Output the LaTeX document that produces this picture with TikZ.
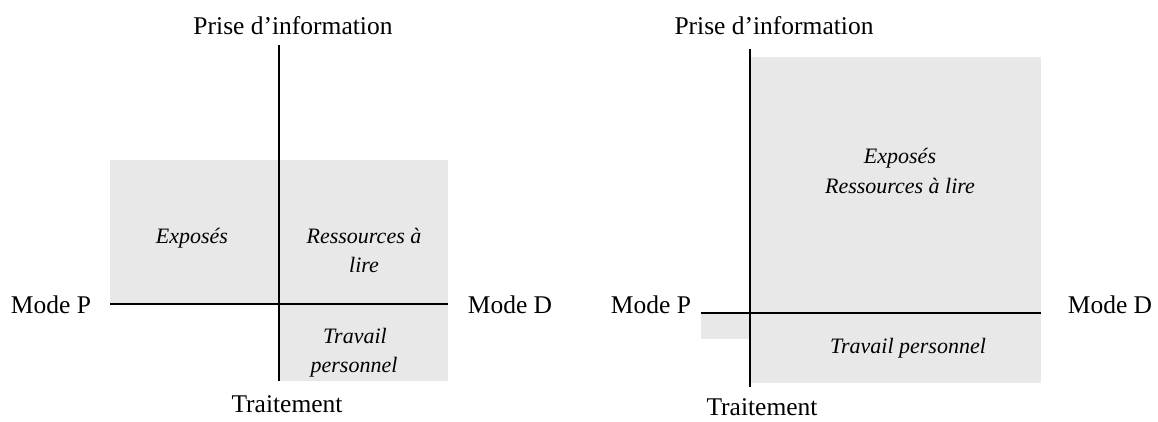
\documentclass[tikz,border=0pt]{standalone}
\usepackage{fontspec}
\setmainfont{Liberation Serif}
\definecolor{shade}{RGB}{232,232,232}
\tikzset{
  axis/.style={line width=2pt, black},
  zone/.style={fill=shade, draw=none},
  lbl/.style={anchor=base, inner sep=0pt, font=\fontsize{25.5pt}{30pt}\selectfont},
  itl/.style={anchor=base, inner sep=0pt, font=\fontsize{22pt}{26pt}\selectfont\itshape},
}
\begin{document}
\begin{tikzpicture}[x=1pt,y=-1pt]
\useasboundingbox (0,0) rectangle (1158,421);
% ---------- left diagram ----------
\fill[zone] (110,160) rectangle (448,304);
\fill[zone] (279,304) rectangle (448,381);
\coordinate (LT) at (279,45);
\coordinate (LB) at (279,381);
\coordinate (LL) at (110,304);
\coordinate (LR) at (448,304);
\draw[axis] (LT) -- (LB);
\draw[axis] (LL) -- (LR);
\node[lbl] (lprise) at (293,34) {Prise d’information};
\node[lbl] (ltrait) at (287,412) {Traitement};
\node[lbl] (lmp) at (51,313) {Mode P};
\node[lbl] (lmd) at (510,313) {Mode D};
\node[itl] (lexp) at (192,243) {Exposés};
\node[itl] (lres) at (364,243) {Ressources à};
\node[itl] (llire) at (364,272) {lire};
\node[itl] (ltrav) at (355,343) {Travail};
\node[itl] (lpers) at (354,372) {personnel};
% ---------- right diagram ----------
\fill[zone] (750,57) rectangle (1041,383);
\fill[zone] (701,313) rectangle (750,339);
\coordinate (RT) at (750,49);
\coordinate (RB) at (750,387);
\coordinate (RL) at (701,313);
\coordinate (RR) at (1041,313);
\draw[axis] (RT) -- (RB);
\draw[axis] (RL) -- (RR);
\node[lbl] (rprise) at (774,34) {Prise d’information};
\node[lbl] (rtrait) at (762,415) {Traitement};
\node[lbl] (rmp) at (651,313) {Mode P};
\node[lbl] (rmd) at (1110,313) {Mode D};
\node[itl] (rexp) at (900,163) {Exposés};
\node[itl] (rres) at (900,193) {Ressources à lire};
\node[itl] (rtrav) at (908,353) {Travail personnel};
\end{tikzpicture}
\end{document}
